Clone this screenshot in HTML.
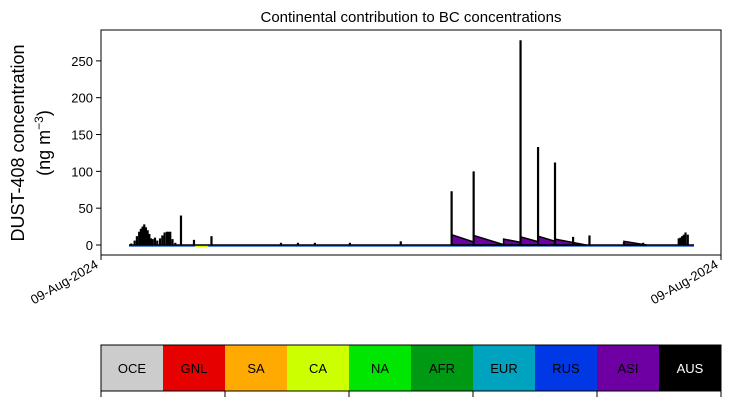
<!DOCTYPE html>
<html><head><meta charset="utf-8"><style>
body{margin:0;background:#fff;font-family:"Liberation Sans","DejaVu Sans",sans-serif}
</style></head><body>
<svg id="c" width="730" height="402" xmlns="http://www.w3.org/2000/svg">
<rect width="730" height="402" fill="#fff"/>
<text x="411" y="22" font-size="15" text-anchor="middle">Continental contribution to BC concentrations</text>
<g font-size="18" text-anchor="middle">
<text transform="translate(24,143) rotate(-90)">DUST-408 concentration</text>
<text transform="translate(50,143) rotate(-90)">(ng m<tspan dy="-7" font-size="12">−3</tspan><tspan dy="7">)</tspan></text>
</g>
<g id="plot"></g>
<rect x="101" y="30" width="620" height="225" fill="none" stroke="#000" stroke-width="1"/>
<g id="yax" font-size="13" text-anchor="end"></g>
<g font-size="13">
<line x1="101" y1="255" x2="101" y2="260" stroke="#000"/>
<line x1="721" y1="255" x2="721" y2="260" stroke="#000"/>
<text transform="translate(99,267) rotate(-30)" text-anchor="end">09-Aug-2024</text>
<text transform="translate(719,267) rotate(-30)" text-anchor="end">09-Aug-2024</text>
</g>
<g id="cbar" font-size="13" text-anchor="middle"></g>
</svg>
<script>
const yTicks=[0,50,100,150,200,250];
const spikeX=[0.4,1.0,1.4,1.8,2.1,2.4,2.7,3.0,3.3,3.6,3.9,4.2,4.6,5.0,5.5,5.9,6.3,6.7,7.0,7.3,7.7,8.2,9.2,11.5,14.6,26.9,29.9,32.9,39.1,48.1,57.1,61.0,66.3,69.3,72.4,75.4,78.6,81.5,87.6,91.0,97.3,97.6,97.9,98.2,98.5,98.9];
const spikeV=[2,6,12,18,22,25,28,24,20,15,9,8,10,6,9,13,17,18,18,18,8,3,40,7,12,3,3,3,3,5,73,100,2,278,133,112,11,13,4,3,9,10,12,14,17,14];
const wedgeX=[57.1,61.0,66.3,69.3,72.4,75.4,87.6];
const wedgeV=[14,13,8,11,12,8,5];
const wedgeLen=[5.5,5.5,5.5,5.2,5.2,5.5,4];
const regions=["OCE","GNL","SA","CA","NA","AFR","EUR","RUS","ASI","AUS"];
const regionColors=["#cccccc","#e60000","#ffaa00","#ccff00","#00e600","#009914","#00a3bf","#0038e6","#6e00a3","#000000"];
const NS="http://www.w3.org/2000/svg";
const X=v=>129+v/100*565;
const Y=v=>245-v*0.7365;
function mk(t,a,p){const e=document.createElementNS(NS,t);for(const k in a)e.setAttribute(k,a[k]);(p||document.getElementById('plot')).appendChild(e);return e;}
const yax=document.getElementById('yax');
yTicks.forEach(t=>{
 const l=mk('line',{x1:96,x2:101,y1:Y(t),y2:Y(t),stroke:'#000'},yax);
 
 
 const tx=mk('text',{x:93,y:Y(t)+5},yax);tx.textContent=t;
 
 
});
const b1=mk('line',{x1:X(0),x2:X(100),y1:Y(0)+1,y2:Y(0)+1,stroke:'#2a5fd0','stroke-width':1.5});


const b2=mk('line',{x1:X(11.7),x2:X(14),y1:Y(0)+1,y2:Y(0)+1,stroke:'#ccff00','stroke-width':2});


wedgeX.forEach((x,i)=>{
 const p=mk('polygon',{points:`${X(x)},${Y(wedgeV[i])} ${X(x+wedgeLen[i])},${Y(0)} ${X(x)},${Y(0)}`,fill:'#6e00a3',stroke:'#000','stroke-width':1.5});
 
 
});
const bl=mk('line',{x1:X(0),x2:X(100),y1:Y(0),y2:Y(0),stroke:'#000','stroke-width':1.5});


spikeX.forEach((x,i)=>{
 const l=mk('line',{x1:X(x),x2:X(x),y1:Y(0),y2:Y(spikeV[i]),stroke:'#000','stroke-width':2.2});
 
 
});
const cb=document.getElementById('cbar');
regions.forEach((r,i)=>{
 const x=101+i*62;
 const rc=mk('rect',{x:x,y:345,width:62,height:46,fill:regionColors[i]},cb);
 
 
 const t=mk('text',{x:x+31,y:373,fill:i==9?'#fff':'#000'},cb);t.textContent=r;
 
 
});
const fr=mk('rect',{x:101,y:345,width:620,height:46,fill:'none',stroke:'#000'},cb);


for(let i=0;i<=5;i++){const l=mk('line',{x1:101+i*124,x2:101+i*124,y1:391,y2:397,stroke:'#000'},cb);
 
 }
</script>
</body></html>
